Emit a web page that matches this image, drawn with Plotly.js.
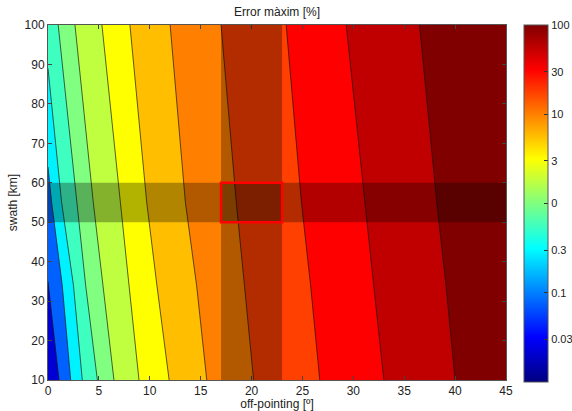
<!DOCTYPE html>
<html>
<head>
<meta charset="utf-8">
<script src="https://cdn.plot.ly/plotly-3.0.1.min.js"></script>
<style>html,body{margin:0;padding:0;background:#fff;}#chart{width:572px;height:411px;}</style>
</head>
<body>
<div id="chart"></div>
<script>
// ---- data ----
const xRange = [0, 45];
const yRange = [10, 100];
const xTicks = [0, 5, 10, 15, 20, 25, 30, 35, 40, 45];
const yTicks = [10, 20, 30, 40, 50, 60, 70, 80, 90, 100];

// contour boundaries (left to right): x positions and matching swath values
const boundaryX = [
  [0, 1.08],
  [0, 0.36, 1.4, 2.23],
  [0, 1.34, 2.5, 3.37],
  [1.0, 2.8, 3.7, 4.85],
  [2.65, 4.45, 5.4, 6.48],
  [5.3, 7.07, 7.96, 8.94],
  [8.05, 9.7, 10.7, 11.9],
  [12.0, 13.5, 14.6, 15.6],
  [17.0, 18.5, 19.3, 20.2],
  [23.4, 24.9, 25.8, 26.7],
  [29.3, 31.1, 32.0, 33.0],
  [36.5, 38.2, 39.1, 40.0]
];
const boundaryY = [
  [35, 10],
  [64, 55, 34, 10],
  [89, 55, 34, 10],
  [100, 55, 34, 10],
  [100, 55, 34, 10],
  [100, 55, 34, 10],
  [100, 55, 34, 10],
  [100, 55, 34, 10],
  [100, 55, 34, 10],
  [100, 55, 34, 10],
  [100, 55, 34, 10],
  [100, 55, 34, 10]
];
// error level [%] of each filled band, left to right
const bandError = [0.021, 0.076, 0.28, 0.56, 1.0, 1.78, 3.16, 5.62, 10, 17.8, 31.6, 56.2, 100];

// highlighted region
const highlightX = [17, 23];
const highlightY = [50, 60];

// colorbar
const cbRange = [0.01, 100];
const cbTickValues = [100, 30, 10, 3, 1, 0.3, 0.1, 0.03];
const cbTickText = ['100', '30', '10', '3', '0', '0.3', '0.1', '0.03'];

// ---- drawing ----
const jetStops = [[0, [0,0,128]], [0.125, [0,0,255]], [0.375, [0,255,255]], [0.625, [255,255,0]], [0.875, [255,0,0]], [1, [128,0,0]]];
function jet(t) {
  t = Math.max(0, Math.min(1, t));
  for (let i = 1; i < jetStops.length; i++) {
    if (t <= jetStops[i][0]) {
      const a = jetStops[i-1], b = jetStops[i];
      const f = (t - a[0]) / (b[0] - a[0]);
      const c = a[1].map((v, k) => Math.round(v + f * (b[1][k] - v)));
      return 'rgb(' + c.join(',') + ')';
    }
  }
  return 'rgb(128,0,0)';
}
const lmin = Math.log10(cbRange[0]), lmax = Math.log10(cbRange[1]);
function colorOf(v) { return jet((Math.log10(v) - lmin) / (lmax - lmin)); }

const traces = [];
traces.push({
  type: 'scatter', mode: 'lines', hoverinfo: 'skip',
  x: [xRange[0], xRange[1], xRange[1], xRange[0]],
  y: [yRange[0], yRange[0], yRange[1], yRange[1]],
  fill: 'toself', fillcolor: colorOf(bandError[bandError.length - 1]), line: {width: 0}
});
for (let i = boundaryX.length - 1; i >= 0; i--) {
  const px = boundaryX[i].slice(), py = boundaryY[i].slice();
  px.push(xRange[0]); py.push(yRange[0]);
  if (boundaryY[i][0] >= yRange[1]) { px.push(xRange[0]); py.push(yRange[1]); }
  traces.push({
    type: 'scatter', mode: 'lines', hoverinfo: 'skip', x: px, y: py,
    fill: 'toself', fillcolor: colorOf(bandError[i]), line: {width: 0}
  });
}
for (let i = 0; i < boundaryX.length; i++) {
  traces.push({
    type: 'scatter', mode: 'lines', hoverinfo: 'skip',
    x: boundaryX[i], y: boundaryY[i],
    line: {color: 'rgba(20,20,20,0.85)', width: 0.8}
  });
}
// colorbar carrier
traces.push({
  type: 'scatter', mode: 'markers', hoverinfo: 'skip',
  x: [xRange[0]], y: [yRange[0]],
  marker: {
    size: 1, opacity: 0, color: [0], cmin: lmin, cmax: lmax,
    colorscale: jetStops.map(s => [s[0], 'rgb(' + s[1].join(',') + ')']),
    showscale: true,
    colorbar: {
      x: 1.039, xanchor: 'left', xpad: 0, y: 1, yanchor: 'top', ypad: 0,
      thickness: 24, thicknessmode: 'pixels', len: 357, lenmode: 'pixels',
      outlinewidth: 1, outlinecolor: '#555',
      tickmode: 'array', tickvals: cbTickValues.map(v => Math.log10(v)), ticktext: cbTickText,
      ticks: 'inside', ticklen: 4, tickcolor: '#333',
      tickfont: {size: 11, color: '#222'}
    }
  }
});

const layout = {
  width: 572, height: 411,
  margin: {l: 48, r: 66, t: 25, b: 31, autoexpand: false},
  paper_bgcolor: '#fff', plot_bgcolor: '#fff',
  font: {family: 'Liberation Sans, Arial, sans-serif', size: 12, color: '#222'},
  showlegend: false,
  title: {text: 'Error màxim [%]', x: 0.5, xref: 'paper', y: 1 - 12/411, yanchor: 'middle', font: {size: 12, color: '#222'}},
  xaxis: {
    range: xRange, tickmode: 'array', tickvals: xTicks, ticks: 'inside', ticklen: 4, tickcolor: '#444',
    showline: true, mirror: 'ticks', linecolor: '#555', linewidth: 1, showgrid: false, zeroline: false,
    tickfont: {size: 12}, automargin: false,
    title: {text: 'off-pointing [º]', standoff: 2, font: {size: 12}}
  },
  yaxis: {
    range: yRange, tickmode: 'array', tickvals: yTicks, ticks: 'inside', ticklen: 4, tickcolor: '#444',
    showline: true, mirror: 'ticks', linecolor: '#555', linewidth: 1, showgrid: false, zeroline: false,
    tickfont: {size: 12}, automargin: false,
    title: {text: 'swath [km]', standoff: 4, font: {size: 12}}
  },
  shapes: [
    {type: 'rect', xref: 'x', yref: 'y', x0: xRange[0], x1: xRange[1], y0: highlightY[0], y1: highlightY[1], fillcolor: 'rgba(0,0,0,0.3)', line: {width: 0}, layer: 'above'},
    {type: 'rect', xref: 'x', yref: 'y', x0: highlightX[0], x1: highlightX[1], y0: yRange[0], y1: yRange[1], fillcolor: 'rgba(0,0,0,0.3)', line: {width: 0}, layer: 'above'},
    {type: 'rect', xref: 'x', yref: 'y', x0: highlightX[0], x1: highlightX[1], y0: highlightY[0], y1: highlightY[1], fillcolor: 'rgba(0,0,0,0)', line: {color: '#ff0000', width: 2.5}, layer: 'above'}
  ]
};

Plotly.newPlot('chart', traces, layout, {staticPlot: true, displayModeBar: false});
</script>
</body>
</html>
